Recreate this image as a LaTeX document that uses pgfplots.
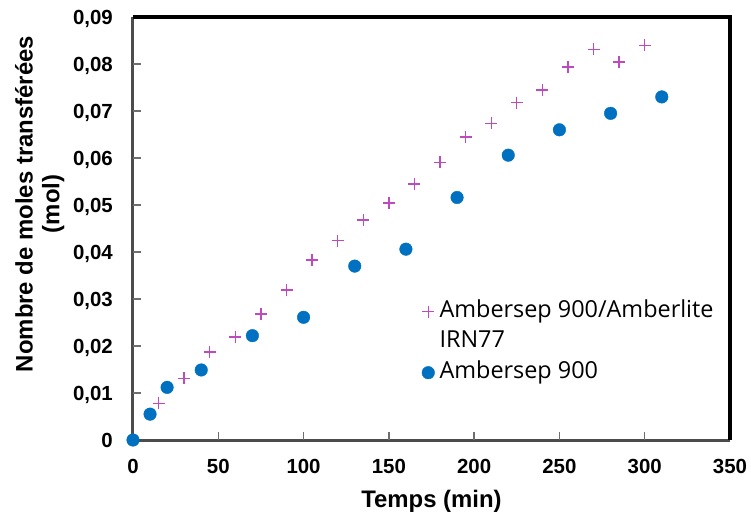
\documentclass[border=0pt]{standalone}
\usepackage{fontspec}
\setmainfont{Liberation Sans}
\newfontfamily\legfont{Open Sans}
\usepackage{pgfplots}
\pgfplotsset{compat=1.18}
\definecolor{plusc}{RGB}{190,75,190}
\definecolor{dotc}{RGB}{0,112,192}
\definecolor{tickc}{RGB}{110,110,110}
\begin{document}
\begin{tikzpicture}
\useasboundingbox (-133bp,-75bp) rectangle (618bp,440bp);
\begin{axis}[
  at={(0,0)}, anchor=south west,
  scale only axis, width=597bp, height=423bp,
  xmin=0, xmax=350, ymin=0, ymax=0.09,
  clip=false,
  axis lines*=left,
  axis line style={-, draw=gray!60!black, line width=3bp},
  xtick={0,50,100,150,200,250,300,350},
  ytick={0,0.01,0.02,0.03,0.04,0.05,0.06,0.07,0.08,0.09},
  tick align=inside,
  major tick length=7bp,
  major tick style={draw=tickc, line width=1.3bp},
  ticklabel style={font=\bfseries\fontsize{20.5}{24}\selectfont},
  /pgf/number format/assume math mode=true,
  scaled y ticks=false,
  yticklabel style={/pgf/number format/use comma, /pgf/number format/fixed, /pgf/number format/precision=2},
  xticklabel style={anchor=base, inner sep=0pt, yshift=-33.5bp},
  yticklabel style={anchor=base east, inner sep=0pt, xshift=-20bp, yshift=-7bp},
  xlabel={Temps (min)},
  xlabel style={font=\bfseries\fontsize{24}{28}\selectfont, at={(axis description cs:0.5,0)}, anchor=base, inner sep=0pt, yshift=-67bp},
  ylabel={Nombre de moles transférées\\(mol)},
  ylabel style={font=\bfseries\fontsize{24}{27}\selectfont, align=center, at={(axis description cs:-0.198,0.558)}, anchor=north, inner sep=0pt},
  legend style={at={(rel axis cs:0.48,0.331)}, anchor=north west, draw=none, fill=none, inner sep=0pt,
    font=\legfont\fontsize{23.5}{27}\selectfont, row sep=7.5bp, column sep=5bp,
    nodes={inner sep=0pt, text height=17bp, text depth=6bp}},
  legend cell align=left,
]
\draw[black, line width=3.5bp] (rel axis cs:0,1) -- (rel axis cs:1,1) -- (rel axis cs:1,0);
\addplot[only marks, mark=+, mark size=6bp, color=plusc, mark options={line width=1.4bp}] coordinates {
(15,0.0078) (30,0.0131) (45,0.0187) (60,0.0219) (75,0.0268) (90,0.0319) (105,0.0383) (120,0.0424) (135,0.0468) (150,0.0504) (165,0.0545) (180,0.0591) (195,0.0645) (210,0.0674) (225,0.0718) (240,0.0745) (255,0.0794) (270,0.0831) (285,0.0804) (300,0.0840)
};
\addlegendentry{Ambersep 900/Amberlite}
\addlegendimage{legend image code/.code={}}
\addlegendentry{IRN77}
\addplot[only marks, mark=*, mark size=6.3bp, color=dotc, mark options={draw=dotc, fill=dotc}] coordinates {
(0,0) (10,0.0055) (20,0.0112) (40,0.0149) (70,0.0222) (100,0.0261) (130,0.0370) (160,0.0406) (190,0.0516) (220,0.0606) (250,0.0660) (280,0.0695) (310,0.0730)
};
\addlegendentry{Ambersep 900}
\end{axis}
\foreach \i in {1,...,6} {\draw[tickc, line width=1.5bp] (\i*85.2857bp,0bp) -- (\i*85.2857bp,8bp);}
\foreach \j in {1,...,8} {\draw[tickc, line width=1.5bp] (0bp,\j*47bp) -- (8bp,\j*47bp);}
\end{tikzpicture}
\end{document}
